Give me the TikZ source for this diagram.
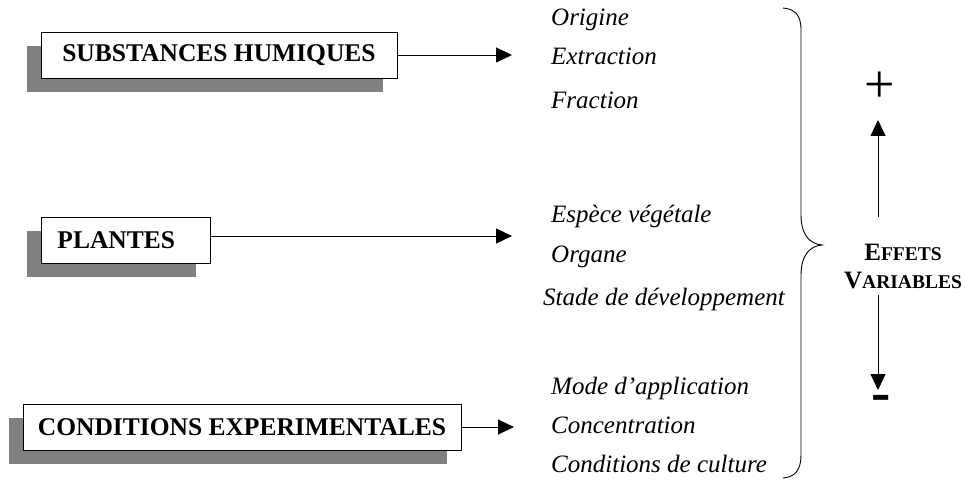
\documentclass[tikz,border=0pt]{standalone}
\usepackage{fontspec}
\setmainfont{Liberation Serif}
\usetikzlibrary{arrows.meta,shadows}
\begin{document}
\begin{tikzpicture}[x=1pt,y=-1pt,
  box/.style={draw=black,line width=0.9pt,fill=white,minimum height=46pt,
    font=\fontsize{25.5}{30}\selectfont\bfseries,
    drop shadow={shadow xshift=-14pt,shadow yshift=-14pt,fill=black!50,opacity=1}},
  item/.style={anchor=base west,inner sep=0pt,font=\fontsize{25}{30}\selectfont\itshape},
  conn/.style={line width=0.9pt,-{Triangle[length=16pt,width=15pt]}},
  sym/.style={inner sep=0pt}]
\useasboundingbox (0,0) rectangle (965,481);
% boxes
\node[box,minimum width=356pt] (b1) at (219,55) {SUBSTANCES HUMIQUES};
\node[box,anchor=west,inner xsep=16pt,text width=137pt,align=left] (b2) at (41,240) {PLANTES};
\node[box,minimum width=438pt] (b3) at (242,427) {CONDITIONS EXPERIMENTALES};
% arrow targets
\coordinate (a1) at (512,55);
\coordinate (a2) at (512,236);
\coordinate (a3) at (514,427);
\draw[conn] (b1.east) -- (a1);
\draw[conn] (b2.east |- a2) -- (a2);
\draw[conn] (b3.east) -- (a3);
% lists
\node[item] (l1) at (551,26) {Origine};
\node[item] (l2) at (551,65) {Extraction};
\node[item] (l3) at (551,109) {Fraction};
\node[item] (l4) at (551,222) {Espèce végétale};
\node[item] (l5) at (551,262) {Organe};
\node[item] (l6) at (543,305) {Stade de développement};
\node[item] (l7) at (551,394) {Mode d’application};
\node[item] (l8) at (551,433) {Concentration};
\node[item] (l9) at (551,472) {Conditions de culture};
% brace
\draw[line width=0.9pt] (783,8) .. controls (795,9) and (801,15) .. (801,30) -- (801,215)
  .. controls (801,235) and (810,244) .. (822,245)
  .. controls (810,246) and (801,255) .. (801,275) -- (801,455)
  .. controls (801,470) and (795,477) .. (783,478);
% effets
\node[align=center,inner sep=0pt,font=\fontsize{25}{28}\selectfont\bfseries] (eff) at (903,267)
  {E{\fontsize{19.5}{28}\selectfont FFETS}\\
   V{\fontsize{19.5}{28}\selectfont ARIABLES}};
\coordinate (u1) at (878,217);
\coordinate (u2) at (878,120);
\coordinate (d1) at (878,295);
\coordinate (d2) at (878,390);
\draw[conn] (u1) -- (u2);
\draw[conn] (d1) -- (d2);
\node[sym,font=\fontsize{54}{54}\selectfont] (plus) at (880,87) {+};
\node[sym,font=\fontsize{58}{58}\selectfont\bfseries] (minus) at (881,403) {-};
\end{tikzpicture}
\end{document}
